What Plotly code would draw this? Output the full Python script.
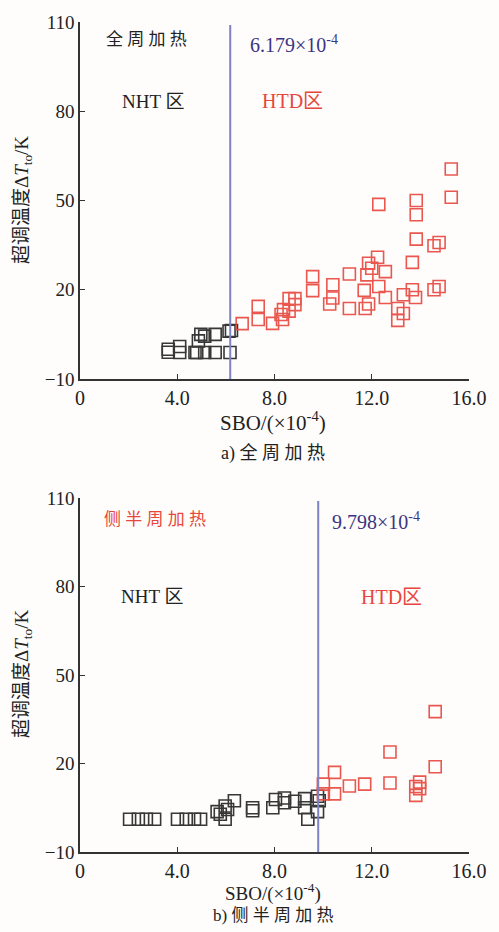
import plotly.graph_objects as go
from plotly.subplots import make_subplots

# ---------------- data ----------------
# (a) full-circumference heating
a_nht_x = [3.63, 3.63, 4.1, 4.1, 4.73, 4.8, 5.13, 5.56, 6.17, 4.97, 4.87, 5.13, 5.56, 6.13, 6.23]
a_nht_y = [0.0, -1.0, 0.9, -1.1, -1.1, -1.1, -1.1, -1.1, -1.1, 5.0, 2.8, 4.4, 5.0, 6.1, 6.3]
a_htd_x = [6.67, 7.33, 7.33, 7.92, 8.33, 8.37, 8.6, 8.6, 8.84, 8.84, 8.27, 9.57, 9.57, 10.27,
           10.4, 10.4, 11.08, 11.08, 11.73, 11.87, 11.69, 11.8, 11.87, 12.0, 12.24, 12.29, 12.29,
           12.56, 12.56, 13.07, 13.07, 13.3, 13.3, 13.67, 13.67, 13.8, 13.83, 13.83, 13.83,
           14.56, 14.77, 14.56, 14.77, 15.27, 15.27]
a_htd_y = [8.6, 14.4, 10.0, 8.7, 10.0, 13.3, 12.8, 17.0, 17.0, 15.0, 11.7, 24.4, 19.7, 15.2,
           21.7, 17.2, 25.3, 13.7, 13.7, 15.2, 19.8, 25.0, 28.9, 27.2, 30.9, 48.7, 21.1,
           26.1, 17.4, 13.7, 9.7, 18.3, 12.0, 29.2, 20.0, 17.4, 50.0, 45.2, 37.0,
           34.8, 35.9, 20.0, 21.1, 60.6, 51.1]
a_threshold = 6.179

# (b) side half-circumference heating
b_nht_x = [2.04, 2.4, 2.73, 3.07, 4.01, 4.37, 4.71, 4.96, 5.64, 5.77, 5.97, 5.97, 6.07, 6.35,
           7.1, 7.1, 7.93, 8.04, 8.41, 8.41, 8.84, 9.24, 9.24, 9.37, 9.77, 9.84, 9.77]
b_nht_y = [1.1, 1.1, 1.1, 1.1, 1.1, 1.1, 1.1, 1.1, 3.7, 2.8, 1.1, 5.6, 4.4, 7.4,
           5.0, 4.0, 5.0, 7.8, 8.3, 6.7, 7.2, 8.1, 5.0, 1.1, 8.9, 7.4, 3.7]
b_htd_x = [10.01, 10.01, 10.47, 10.47, 11.08, 11.71, 12.75, 12.75, 13.81, 13.81, 13.97, 13.97,
           14.61, 14.61]
b_htd_y = [13.0, 9.7, 17.0, 9.7, 12.4, 13.0, 23.9, 13.4, 12.2, 9.2, 13.7, 11.5, 37.6, 18.9]
b_threshold = 9.798

x_tickvals = [0, 4, 8, 12, 16]
x_ticktext = ["0", "4.0", "8.0", "12.0", "16.0"]
y_tickvals = [-10, 20, 50, 80, 110]

# ---------------- style ----------------
FONT = "Liberation Serif, Times New Roman, Noto Sans CJK SC"
RED = "#e8463c"
BLACK = "#222222"
VLINE = "#7d82c2"
NUMCOL = "#3b3482"

fig = make_subplots(rows=2, cols=1, vertical_spacing=0.1428)
fig.update_layout(
    width=499, height=932,
    margin=dict(l=80, r=20, t=15, b=80),
    paper_bgcolor="#fefdfc", plot_bgcolor="#fefdfc",
    showlegend=False,
    font=dict(family=FONT, size=17, color="#222222"),
)
fig.update_yaxes(domain=[0.5699, 1.0], row=1, col=1)
fig.update_yaxes(domain=[0.0, 0.4265], row=2, col=1)

mk = lambda c: dict(symbol="square-open", size=12, color=c, line=dict(width=1.6, color=c))

for row, (nx, ny, hx, hy) in enumerate([(a_nht_x, a_nht_y, a_htd_x, a_htd_y),
                                          (b_nht_x, b_nht_y, b_htd_x, b_htd_y)], start=1):
    fig.add_trace(go.Scatter(x=nx, y=ny, mode="markers", marker=mk(BLACK), opacity=0.9),
                  row=row, col=1)
    fig.add_trace(go.Scatter(x=hx, y=hy, mode="markers", marker=mk(RED), opacity=0.9),
                  row=row, col=1)

axis_common = dict(showline=True, linecolor="#333333", linewidth=1.5, ticks="inside",
                   ticklen=5, tickwidth=1.3, tickcolor="#333333", showgrid=False,
                   zeroline=False)
fig.update_xaxes(range=[0, 16], tickvals=x_tickvals, ticktext=x_ticktext,
                 tickfont=dict(family=FONT, size=20, color="#222222"), **axis_common)
fig.update_yaxes(range=[-10, 110], tickvals=y_tickvals,
                 tickfont=dict(family=FONT, size=19, color="#222222"), **axis_common)

# threshold lines
for row, thr in [(1, a_threshold), (2, b_threshold)]:
    xr = "x" if row == 1 else "x2"
    yr = "y" if row == 1 else "y2"
    fig.add_shape(type="line", xref=xr, yref=yr, x0=thr, x1=thr, y0=-10, y1=109,
                  line=dict(color=VLINE, width=2))

def ann(text, x, y, xr, yr, color="#222222", size=18, xanchor="center", yanchor="middle", **kw):
    fig.add_annotation(text=text, x=x, y=y, xref=xr, yref=yr, showarrow=False,
                       xanchor=xanchor, yanchor=yanchor,
                       font=dict(family=FONT, size=size, color=color), **kw)

# top panel texts
ann("全 周 加 热", 2.72, 104, "x", "y", size=17)
ann("NHT 区", 3.0, 83.3, "x", "y", size=19)
ann("%.3f×10<sup>-4</sup>" % a_threshold, 8.8, 102.7, "x", "y", color=NUMCOL, size=20)
ann("HTD区", 8.76, 83.3, "x", "y", color=RED, size=20)
# bottom panel texts
ann("侧 半 周 加 热", 3.08, 102.7, "x2", "y2", color=RED, size=17)
ann("%.3f×10<sup>-4</sup>" % b_threshold, 12.16, 102.3, "x2", "y2", color=NUMCOL, size=20)
ann("NHT 区", 2.96, 76.7, "x2", "y2", size=19)
ann("HTD区", 12.8, 76.3, "x2", "y2", color=RED, size=20)

# axis titles and captions
ytitle = "超调温度Δ<i>T</i><sub>to</sub>/K"
ann(ytitle, -0.145, 0.785, "paper", "paper", textangle=-90, size=19)
ann(ytitle, -0.145, 0.214, "paper", "paper", textangle=-90, size=19)
ann("SBO/(×10<sup>-4</sup>)", 0.496, 0.537, "paper", "paper", size=21, yanchor="top")
ann("a) 全 周 加 热", 0.496, 0.4946, "paper", "paper", size=18, yanchor="top")
ann("SBO/(×10<sup>-4</sup>)", 0.496, -0.049, "paper", "paper", size=19)
ann("b) 侧 半 周 加 热", 0.496, -0.0765, "paper", "paper", size=17)

fig.write_html("out.html")
